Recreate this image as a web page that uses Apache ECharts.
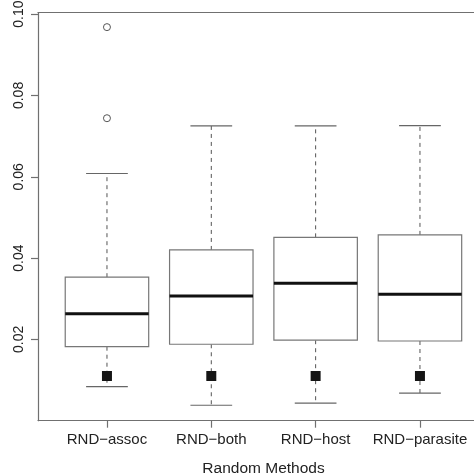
<!DOCTYPE html>
<html>
<head>
<meta charset="utf-8">
<script src="https://cdn.jsdelivr.net/npm/echarts@6/dist/echarts.min.js"></script>
<style>
  html, body { margin: 0; padding: 0; background: #fff; }
  #chart { width: 474px; height: 474px; }
</style>
</head>
<body>
<div id="chart"></div>
<script>
// categories on the x axis (positions 1..4)
var categories = ["RND\u2212assoc", "RND\u2212both", "RND\u2212host", "RND\u2212parasite"];
// box statistics
var whiskerLow  = [0.0084, 0.0038, 0.0043, 0.0068];
var lowerQuart  = [0.0182, 0.0188, 0.0198, 0.0196];
var medians     = [0.0263, 0.0307, 0.0338, 0.0311];
var upperQuart  = [0.0353, 0.0420, 0.0451, 0.0457];
var whiskerHigh = [0.0608, 0.0725, 0.0725, 0.0726];
// outliers: [category index, value]
var outliers = [[0, 0.0968], [0, 0.0744]];
// observed value (filled squares)
var observed = [0.011, 0.011, 0.011, 0.011];
// tick labels
var yTicks = [0.02, 0.04, 0.06, 0.08, 0.10];
var yTickLabels = ["0.02", "0.04", "0.06", "0.08", "0.10"];

var boxData = categories.map(function (c, i) {
    return [i + 1, whiskerLow[i], lowerQuart[i], medians[i], upperQuart[i], whiskerHigh[i]];
});
var outlierData = outliers.map(function (o) { return [o[0] + 1, o[1]]; });
var observedData = observed.map(function (v, i) { return [i + 1, v]; });

var axisColor = "#707070";
var textColor = "#222";
var font = "Liberation Sans";

function renderBox(params, api) {
    var x = api.value(0);
    var lo = api.coord([x, api.value(1)]);
    var q1 = api.coord([x, api.value(2)]);
    var med = api.coord([x, api.value(3)]);
    var q3 = api.coord([x, api.value(4)]);
    var hi = api.coord([x, api.value(5)]);
    var boxW = api.size([0.8, 0])[0];
    var capW = api.size([0.4, 0])[0];
    var cx = lo[0];
    var dash = { stroke: "#555", lineWidth: 1, lineDash: [4, 4] };
    var solid = { stroke: "#666", lineWidth: 1.2 };
    return {
        type: "group",
        children: [
            { type: "line", shape: { x1: cx, y1: q3[1], x2: cx, y2: hi[1] }, style: dash },
            { type: "line", shape: { x1: cx, y1: q1[1], x2: cx, y2: lo[1] }, style: dash },
            { type: "line", shape: { x1: cx - capW / 2, y1: hi[1], x2: cx + capW / 2, y2: hi[1] }, style: solid },
            { type: "line", shape: { x1: cx - capW / 2, y1: lo[1], x2: cx + capW / 2, y2: lo[1] }, style: solid },
            { type: "rect", shape: { x: cx - boxW / 2, y: q3[1], width: boxW, height: q1[1] - q3[1] },
              style: { fill: "#fff", stroke: "#777", lineWidth: 1.2 } },
            { type: "line", shape: { x1: cx - boxW / 2, y1: med[1], x2: cx + boxW / 2, y2: med[1] },
              style: { stroke: "#111", lineWidth: 3 } }
        ]
    };
}

var chart = echarts.init(document.getElementById("chart"));
chart.setOption({
    animation: false,
    backgroundColor: "#fff",
    grid: { left: 38, right: 0, top: 12.5, bottom: 53.3, outerBoundsMode: "none", containLabel: false },
    xAxis: [{
        type: "value",
        min: 0.339,
        max: 4.518,
        splitLine: { show: false },
        axisLine: { lineStyle: { color: axisColor, width: 1.2 } },
        axisTick: { customValues: [1, 2, 3, 4], length: 7, lineStyle: { color: axisColor, width: 1.2 } },
        axisLabel: {
            customValues: [1, 2, 3, 4],
            margin: 12,
            color: textColor,
            fontFamily: font,
            fontSize: 15,
            formatter: function (v) { return categories[Math.round(v) - 1]; }
        },
        name: "Random Methods",
        nameLocation: "middle",
        nameGap: 40,
        nameTextStyle: { color: textColor, fontFamily: font, fontSize: 15.5, padding: [0, 0, 0, 15] }
    }, {
        type: "value",
        position: "top",
        min: 0.339,
        max: 4.518,
        splitLine: { show: false },
        axisLine: { show: true, lineStyle: { color: axisColor, width: 1.2 } },
        axisTick: { show: false },
        axisLabel: { show: false }
    }],
    yAxis: {
        type: "value",
        min: 0,
        max: 0.1004,
        splitLine: { show: false },
        axisLine: { show: true, lineStyle: { color: axisColor, width: 1.2 } },
        axisTick: { show: true, customValues: yTicks, length: 7, lineStyle: { color: axisColor, width: 1.2 } },
        axisLabel: {
            customValues: yTicks,
            rotate: 90,
            margin: 12,
            color: textColor,
            fontFamily: font,
            fontSize: 14,
            formatter: function (v) {
                var i = yTicks.findIndex(function (t) { return Math.abs(t - v) < 1e-9; });
                return i >= 0 ? yTickLabels[i] : "";
            }
        }
    },
    series: [{
        type: "custom",
        renderItem: renderBox,
        encode: { x: 0, y: [1, 2, 3, 4, 5] },
        data: boxData,
        z: 2
    }, {
        type: "scatter",
        symbol: "circle",
        symbolSize: 7,
        itemStyle: { color: "#fff", borderColor: "#555", borderWidth: 1, opacity: 1 },
        data: outlierData,
        z: 3
    }, {
        type: "scatter",
        symbol: "rect",
        symbolSize: 10,
        itemStyle: { color: "#151515", opacity: 1 },
        data: observedData,
        z: 4
    }]
});
</script>
</body>
</html>
